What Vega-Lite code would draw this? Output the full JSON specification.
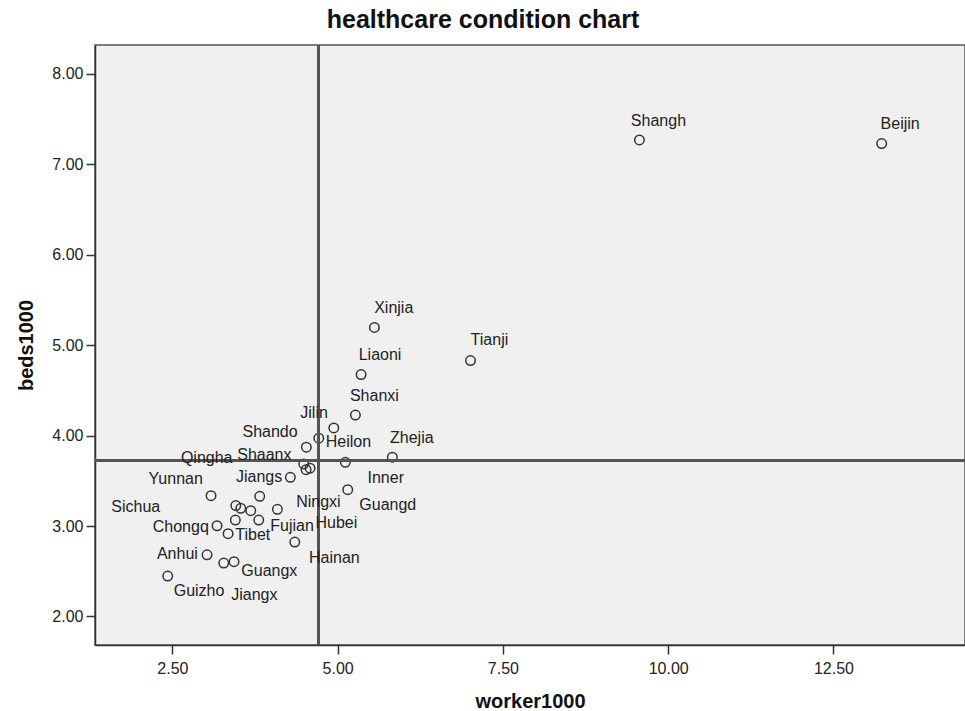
{
  "$schema": "https://vega.github.io/schema/vega-lite/v6.json",
  "width": 870,
  "height": 600,
  "autosize": {"type": "none"},
  "padding": {"left": 95, "top": 45, "right": 0, "bottom": 66},
  "background": "white",
  "title": {"text": "healthcare condition chart", "font": "Liberation Sans", "fontSize": 25, "fontWeight": "bold", "color": "#111111", "anchor": "middle", "dx": -47, "offset": 11},
  "config": {
    "view": {"fill": "#f0f0f0", "stroke": "#555555", "strokeWidth": 1.5},
    "axis": {"labelFont": "Liberation Sans", "labelFontSize": 16, "labelColor": "#222222", "titleFont": "Liberation Sans", "titleFontSize": 20, "titleFontWeight": "bold", "titleColor": "#111111", "tickColor": "#333333", "tickWidth": 1.5, "tickSize": 9, "domainColor": "#333333", "domainWidth": 1.5, "grid": false}
  },
  "data": {"values": [
    {"province": "Shanghai", "worker1000": 9.565, "beds1000": 7.27, "label": "Shangh", "lx": 9.853, "ly": 7.477},
    {"province": "Beijing", "worker1000": 13.23, "beds1000": 7.23, "label": "Beijin", "lx": 13.509, "ly": 7.441},
    {"province": "Tianjin", "worker1000": 7.01, "beds1000": 4.83, "label": "Tianji", "lx": 7.296, "ly": 5.052},
    {"province": "Xinjiang", "worker1000": 5.556, "beds1000": 5.196, "label": "Xinjia", "lx": 5.849, "ly": 5.411},
    {"province": "Liaoning", "worker1000": 5.355, "beds1000": 4.675, "label": "Liaoni", "lx": 5.642, "ly": 4.886},
    {"province": "Shanxi", "worker1000": 5.269, "beds1000": 4.227, "label": "Shanxi", "lx": 5.556, "ly": 4.443},
    {"province": "Jilin", "worker1000": 4.942, "beds1000": 4.085, "label": "Jilin", "lx": 4.644, "ly": 4.251},
    {"province": "Heilongjiang", "worker1000": 4.715, "beds1000": 3.971, "label": "Heilon", "lx": 5.163, "ly": 3.927},
    {"province": "Shandong", "worker1000": 4.527, "beds1000": 3.872, "label": "Shando", "lx": 3.978, "ly": 4.044},
    {"province": "Zhejiang", "worker1000": 5.828, "beds1000": 3.761, "label": "Zhejia", "lx": 6.122, "ly": 3.975},
    {"province": "Inner Mongolia", "worker1000": 5.117, "beds1000": 3.705, "label": "Inner", "lx": 5.728, "ly": 3.532},
    {"province": "Shaanxi", "worker1000": 4.488, "beds1000": 3.687, "label": "Shaanx", "lx": 3.892, "ly": 3.786},
    {"province": "Qinghai", "worker1000": 4.523, "beds1000": 3.623, "label": "Qingha", "lx": 3.02, "ly": 3.756},
    {"province": "Hebei", "worker1000": 4.583, "beds1000": 3.639},
    {"province": "Jiangsu", "worker1000": 4.285, "beds1000": 3.539, "label": "Jiangs", "lx": 3.812, "ly": 3.539},
    {"province": "Guangdong", "worker1000": 5.153, "beds1000": 3.402, "label": "Guangd", "lx": 5.759, "ly": 3.233},
    {"province": "Yunnan", "worker1000": 3.085, "beds1000": 3.336, "label": "Yunnan", "lx": 2.551, "ly": 3.52},
    {"province": "Hubei", "worker1000": 3.822, "beds1000": 3.329, "label": "Hubei", "lx": 4.981, "ly": 3.033},
    {"province": "Ningxia", "worker1000": 4.089, "beds1000": 3.185, "label": "Ningxi", "lx": 4.709, "ly": 3.262},
    {"province": "Sichuan", "worker1000": 3.46, "beds1000": 3.226, "label": "Sichua", "lx": 1.946, "ly": 3.214},
    {"province": "Henan", "worker1000": 3.535, "beds1000": 3.196},
    {"province": "Hunan", "worker1000": 3.686, "beds1000": 3.169},
    {"province": "Gansu", "worker1000": 3.453, "beds1000": 3.066},
    {"province": "Fujian", "worker1000": 3.807, "beds1000": 3.066, "label": "Fujian", "lx": 4.311, "ly": 3.003},
    {"province": "Chongqing", "worker1000": 3.176, "beds1000": 3.003, "label": "Chongq", "lx": 2.627, "ly": 2.986},
    {"province": "Tibet", "worker1000": 3.343, "beds1000": 2.915, "label": "Tibet", "lx": 3.716, "ly": 2.904},
    {"province": "Hainan", "worker1000": 4.352, "beds1000": 2.823, "label": "Hainan", "lx": 4.951, "ly": 2.649},
    {"province": "Anhui", "worker1000": 3.025, "beds1000": 2.682, "label": "Anhui", "lx": 2.576, "ly": 2.69},
    {"province": "Guangxi", "worker1000": 3.433, "beds1000": 2.605, "label": "Guangx", "lx": 3.967, "ly": 2.505},
    {"province": "Jiangxi", "worker1000": 3.278, "beds1000": 2.59, "label": "Jiangx", "lx": 3.741, "ly": 2.236},
    {"province": "Guizhou", "worker1000": 2.43, "beds1000": 2.446, "label": "Guizho", "lx": 2.904, "ly": 2.277}
  ]},
  "layer": [
    {
      "mark": {"type": "point", "shape": "circle", "filled": false, "size": 90, "stroke": "#333333", "strokeWidth": 1.5, "opacity": 1},
      "encoding": {
        "x": {"field": "worker1000", "type": "quantitative", "scale": {"domain": [1.33, 14.49], "nice": false, "zero": false},
              "axis": {"title": "worker1000", "values": [2.5, 5, 7.5, 10, 12.5], "format": ".2f", "labelPadding": 6, "titlePadding": 15}},
        "y": {"field": "beds1000", "type": "quantitative", "scale": {"domain": [1.684, 8.32], "nice": false, "zero": false},
              "axis": {"title": "beds1000", "values": [2, 3, 4, 5, 6, 7, 8], "format": ".2f", "labelPadding": 3, "titlePadding": 15}}
      }
    },
    {
      "mark": {"type": "rule", "color": "#555555", "strokeWidth": 2},
      "encoding": {"x": {"datum": 4.709, "type": "quantitative", "axis": {"title": "worker1000"}}}
    },
    {
      "mark": {"type": "rule", "color": "#555555", "strokeWidth": 2},
      "encoding": {"y": {"datum": 3.723, "type": "quantitative", "axis": {"title": "beds1000"}}}
    },
    {
      "transform": [{"filter": "isValid(datum.lx)"}],
      "mark": {"type": "text", "font": "Liberation Sans", "fontSize": 16, "color": "#222222", "align": "center", "baseline": "middle"},
      "encoding": {
        "x": {"field": "lx", "type": "quantitative", "axis": {"title": "worker1000"}},
        "y": {"field": "ly", "type": "quantitative", "axis": {"title": "beds1000"}},
        "text": {"field": "label"}
      }
    }
  ]
}
